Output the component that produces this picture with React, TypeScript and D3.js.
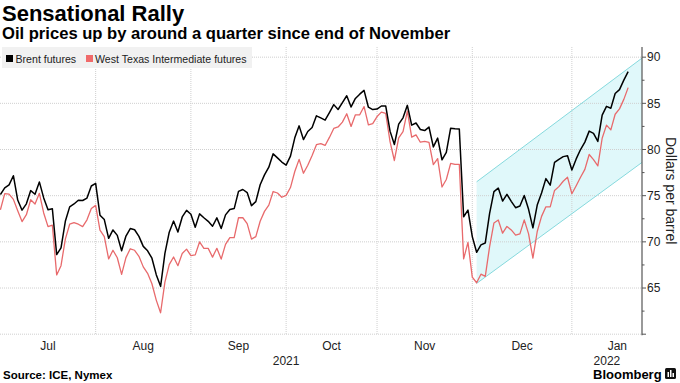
import React from "react";
import * as d3 from "d3";

// ---- Data ----
const firstDay = "2021-06-30";
const lastDay = "2022-01-19";
// Brent futures, one value per weekday from Jun 30 2021 to Jan 19 2022
const brent = [
  75.13,
  75.84, 76.17, 77.16, 74.53, 73.43, 74.12, 75.55, 75.16, 76.49, 74.76, 73.47, 73.59, 68.62, 69.35, 72.23, 73.79, 74.10, 74.50, 74.48, 74.74, 76.05, 76.33,
  72.89, 72.41, 70.38, 71.29, 70.70, 69.04, 70.63, 71.44, 71.31, 70.59, 69.51, 69.03, 68.23, 66.45, 65.18, 68.75, 71.05, 72.25, 71.07, 72.70, 73.41, 72.99,
  71.59, 73.03, 72.61, 72.22, 71.69, 72.60, 71.45, 72.92, 73.51, 73.60, 75.46, 75.67, 75.34, 73.92, 74.36, 76.19, 77.25, 78.09, 79.53, 79.09, 78.64, 78.31,
  79.28, 81.26, 82.56, 81.08, 81.95, 82.39, 83.65, 83.42, 83.18, 84.00, 84.86, 84.33, 85.08, 85.82, 84.61, 85.53, 85.99, 86.40, 84.58, 84.32, 84.38,
  84.71, 84.72, 81.99, 80.54, 82.74, 83.43, 84.78, 82.64, 82.87, 82.17, 82.05, 82.43, 80.28, 81.24, 78.89, 79.70, 82.31, 82.25, 82.22, 72.72, 73.44, 70.57,
  68.87, 69.67, 69.88, 73.08, 75.44, 75.82, 74.42, 75.15, 74.39, 73.70, 73.88, 75.02, 73.52, 71.52, 73.98, 75.29, 76.85, 76.14, 78.60, 78.94, 79.23, 79.32, 77.78,
  78.98, 80.00, 80.80, 81.99, 81.75, 80.87, 83.72, 84.67, 84.47, 86.06, 86.48, 87.51, 88.44,
];
// West Texas Intermediate futures
const wti = [
  73.47,
  75.23, 75.16, 74.6, 73.37, 72.20, 72.94, 74.56, 74.10, 75.25, 73.13, 71.65, 71.81, 66.42, 67.42, 70.30, 71.91, 72.07, 71.91, 71.65, 72.39, 73.62, 73.95,
  71.26, 70.56, 68.15, 69.09, 68.28, 66.48, 68.29, 69.25, 69.09, 68.44, 67.29, 66.59, 65.46, 63.69, 62.32, 65.64, 67.54, 68.36, 67.42, 68.74, 69.21, 68.50,
  68.59, 69.99, 69.29, 69.29, 68.35, 69.30, 68.14, 69.72, 70.45, 70.46, 72.61, 72.61, 71.97, 70.29, 70.56, 72.23, 73.30, 73.98, 75.45, 75.29, 74.83, 75.03,
  75.88, 77.62, 78.93, 77.43, 78.30, 79.35, 80.52, 80.64, 80.44, 81.31, 82.28, 82.44, 82.96, 83.87, 82.50, 83.76, 83.76, 84.65, 82.66, 82.81, 83.57,
  84.05, 83.91, 80.86, 78.81, 81.27, 81.93, 84.15, 81.34, 81.59, 80.79, 80.88, 80.76, 78.36, 79.01, 75.94, 76.75, 78.50, 78.39, 78.39, 68.15, 69.95, 66.18,
  65.57, 66.50, 66.26, 69.49, 72.05, 72.36, 70.94, 71.67, 71.29, 70.73, 70.87, 72.38, 70.86, 68.23, 71.12, 72.76, 73.79, 73.79, 75.57, 75.98, 76.56, 76.99, 75.21,
  76.08, 76.99, 77.85, 79.46, 78.90, 78.23, 81.22, 82.64, 82.12, 83.82, 84.4, 85.43, 86.7,
];
const monthLabels = ["Jul", "Aug", "Sep", "Oct", "Nov", "Dec", "Jan"];
const yearLabels = ["2021", "2022"];
const yTicks = [65, 70, 75, 80, 85, 90];
const channelStart = "2021-12-01";
const channelLower = [65.5, 78.6];
const channelUpper = [76.5, 89.9];
const seriesNames = ["Brent futures", "West Texas Intermediate futures"];

const FONT = "'Liberation Sans', Arial, sans-serif";

const parse = d3.timeParse("%Y-%m-%d");
const isWeekday = (d: Date) => d.getDay() !== 0 && d.getDay() !== 6;
const weekdays = d3.timeDay
  .range(parse(firstDay)!, d3.timeDay.offset(parse(lastDay)!, 1))
  .filter(isWeekday);
// extended calendar for month label spans
const extDays = d3.timeDay
  .range(parse(firstDay)!, new Date(2022, 1, 1))
  .filter(isWeekday);

export default function App() {
  const W = 680, H = 383;
  const domainEnd = 148.2;
  const x = d3.scaleLinear().domain([0, domainEnd]).range([0.4, 642]);
  const y = d3.scaleLinear().domain([60, 91.1]).range([334.2, 47]);
  const axisX = x(domainEnd);

  const bounds: number[] = [0];
  for (let i = 1; i < extDays.length - 1; i++) {
    if (extDays[i + 1].getMonth() !== extDays[i].getMonth()) bounds.push(i);
  }
  bounds.push(extDays.length - 1);
  const gridIdx = bounds.slice(1, -1);
  const yearBoundary = gridIdx[gridIdx.length - 1];

  const line = d3
    .line<number>()
    .x((_, i) => x(i))
    .y((v) => y(v))
    .curve(d3.curveLinear);

  const cStart = weekdays.findIndex((d) => +d === +parse(channelStart)!);
  const chX = [cStart, domainEnd];
  const channelPath =
    `M${x(chX[0])},${y(channelLower[0])}L${x(chX[1])},${y(channelLower[1])}` +
    `L${x(chX[1])},${y(channelUpper[1])}L${x(chX[0])},${y(channelUpper[0])}Z`;

  const gridV = [60, 65, 70, 75, 80, 85, 90];
  const minor = d3.range(62.5, 90, 5);

  return (
    <svg width={W} height={H} style={{ position: "absolute", left: 0, top: 0, background: "#fff" }} fontFamily={FONT}>
      <rect width={W} height={H} fill="#fff" />
      <text x={2} y={21} fontSize={22} fontWeight="bold" fill="#000">Sensational Rally</text>
      <text x={2} y={39} fontSize={16.6} fontWeight="bold" fill="#000">
        Oil prices up by around a quarter since end of November
      </text>

      {/* channel */}
      <path d={channelPath} fill="#e0f8fa" stroke="none" />

      {/* gridlines */}
      {gridV.map((v) => (
        <line key={"h" + v} x1={0} x2={axisX} y1={y(v)} y2={y(v)} stroke="#cfcfcf" strokeWidth={1} strokeDasharray="1,1" />
      ))}
      {gridIdx.map((i) => (
        <line key={"v" + i} x1={x(i)} x2={x(i)} y1={y(91.1)} y2={y(60)} stroke="#cfcfcf" strokeWidth={1} strokeDasharray="1,1" />
      ))}

      <line x1={x(chX[0])} y1={y(channelLower[0])} x2={x(chX[1])} y2={y(channelLower[1])} stroke="#86d9dd" strokeWidth={1} />
      <line x1={x(chX[0])} y1={y(channelUpper[0])} x2={x(chX[1])} y2={y(channelUpper[1])} stroke="#86d9dd" strokeWidth={1} />

      {/* legend */}
      <rect x={2} y={47} width={250} height={21} fill="#f1f1f1" />
      <rect x={6} y={55} width={7} height={7} fill="#000" />
      <text x={15.5} y={62.5} fontSize={10.6} fill="#222">{seriesNames[0]}</text>
      <rect x={86} y={55} width={7} height={7} fill="#f06a6a" />
      <text x={95} y={62.5} fontSize={10.6} fill="#222">{seriesNames[1]}</text>

      {/* series */}
      <path d={line(wti)!} fill="none" stroke="#e86a6c" strokeWidth={1.3} strokeLinejoin="round" />
      <path d={line(brent)!} fill="none" stroke="#000" strokeWidth={1.5} strokeLinejoin="round" />

      {/* right axis */}
      <line x1={axisX} x2={axisX} y1={y(91.1)} y2={y(60) + 1} stroke="#555" strokeWidth={1.2} />
      {gridV.map((v) => (
        <line key={"t" + v} x1={axisX} x2={axisX + 4} y1={y(v)} y2={y(v)} stroke="#555" strokeWidth={1} />
      ))}
      {minor.map((v) => (
        <line key={"m" + v} x1={axisX} x2={axisX + 2.5} y1={y(v)} y2={y(v)} stroke="#555" strokeWidth={1} />
      ))}
      {yTicks.map((v) => (
        <text key={"l" + v} x={axisX + 5} y={y(v) + 4.3} fontSize={12} fill="#222">{v}</text>
      ))}
      <text transform={`translate(${666},${(y(91.1) + y(60)) / 2}) rotate(90)`} textAnchor="middle" fontSize={14} fill="#222">
        Dollars per barrel
      </text>

      {/* x labels */}
      {monthLabels.map((m, i) => (
        <text key={m} x={x((bounds[i] + bounds[i + 1]) / 2)} y={350} textAnchor="middle" fontSize={12} fill="#222">{m}</text>
      ))}
      <text x={x(yearBoundary / 2)} y={365} textAnchor="middle" fontSize={12} fill="#222">{yearLabels[0]}</text>
      <text x={x((yearBoundary + domainEnd) / 2)} y={365} textAnchor="middle" fontSize={12} fill="#222">{yearLabels[1]}</text>

      <text x={3} y={379} fontSize={11.5} fontWeight="bold" fill="#000">Source: ICE, Nymex</text>
      <text x={593} y={378.5} fontSize={13} fontWeight="bold" fill="#000">Bloomberg</text>
      <rect x={665} y={368} width={11} height={11} rx={1.5} fill="#111" />
      <rect x={667.5} y={372} width={1.5} height={5} fill="#fff" />
      <rect x={670} y={370} width={1.5} height={7} fill="#fff" />
      <rect x={672.5} y={373} width={1.5} height={4} fill="#fff" />
    </svg>
  );
}
